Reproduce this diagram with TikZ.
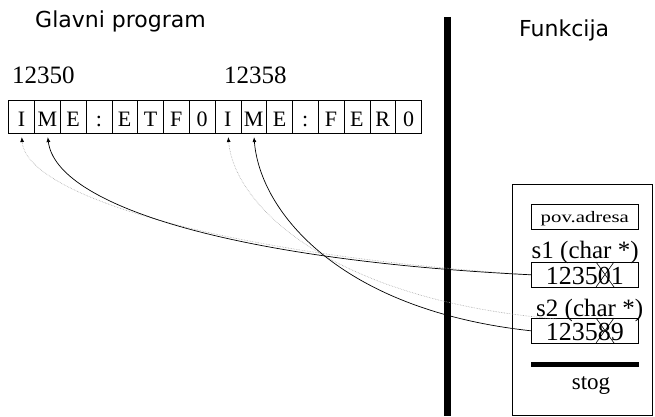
\documentclass[tikz,border=0pt]{standalone}
\usepackage{fontspec}
\setmainfont{Liberation Serif}
\newfontfamily\sansf{DejaVu Sans}
\usetikzlibrary{arrows.meta}
\begin{document}
\begin{tikzpicture}[x=1pt,y=-1pt,
  cell/.style={draw, line width=0.6pt, minimum width=25.8pt, minimum height=32pt,
    inner sep=0pt, anchor=north west, font=\fontsize{22}{22}\selectfont,
    text height=20pt, text depth=0pt},
  membox/.style={draw, line width=0.6pt, minimum width=107pt, minimum height=25pt,
    inner sep=0pt, anchor=north west},
  digits/.style={font=\fontsize{26}{26}\selectfont, text height=19pt, text depth=0pt},
  lbl/.style={anchor=base west, inner sep=0pt, font=\fontsize{25}{25}\selectfont},
  title/.style={anchor=base west, inner sep=0pt, font=\sansf\fontsize{22}{22}\selectfont},
  newptr/.style={line width=0.7pt, black, {Latex[length=5pt,width=4pt,black]}-, shorten <=4pt},
  oldptr/.style={line width=0.6pt, gray!70, densely dotted, {Latex[length=5pt,width=4pt,black]}-, shorten <=4pt},
  xmark/.style={line width=0.6pt}
]
\useasboundingbox (0,0) rectangle (655,417);

% titles
\node[title] (t1) at (35,28) {Glavni program};
\node[title] (t2) at (519,36.5) {Funkcija};

% divider
\draw[line width=7pt] (447,17) -- (447,416);

% addresses
\node[lbl] (a1) at (12,84) {12350};
\node[lbl] (a2) at (224,84) {12358};

% string cells
\foreach \ch [count=\i] in {I,M,E,:,E,T,F,0,I,M,E,:,F,E,R,0}
  \node[cell] (c\i) at ({8.3+(\i-1)*25.8},100.5) {\ch};

% function stack frame
\node[draw, line width=0.7pt, minimum width=140pt, minimum height=231pt,
  inner sep=0pt, anchor=north west] (frame) at (511.7,184) {};
\node[membox, text height=11pt, text depth=0pt] (pov) at (531,204)
  {\fontsize{16}{16}\selectfont\scalebox{1.3}[1]{pov.adresa}};
\node[lbl] (s1) at (531.5,258) {s1 (char *)};
\node[membox, digits] (b1) at (531,262) {123501};
\node[lbl] (s2) at (536,316) {s2 (char *)};
\node[membox, digits] (b2) at (531,318) {123589};
\draw[xmark] (596,262) -- (614,287) (614,262) -- (596,287);
\draw[xmark] (596,318) -- (614,343) (614,318) -- (596,343);
\draw[line width=5pt] (531,364.5) -- (639,364.5);
\node[anchor=base, inner sep=0pt, font=\fontsize{23}{23}\selectfont] (stog) at (591,389) {stog};

\coordinate (g2end) at (557,319);

% pointers
\draw[oldptr] (c1.south) .. controls (26,195) and (220,255) .. (b1.west);
\draw[newptr] (c2.south) .. controls (56,205) and (230,260) .. (b1.west);
\draw[oldptr] (c9.south) .. controls (234,205) and (330,300) .. (g2end);
\draw[newptr] (c10.south) .. controls (260,212) and (340,310) .. (b2.west);
\end{tikzpicture}
\end{document}
